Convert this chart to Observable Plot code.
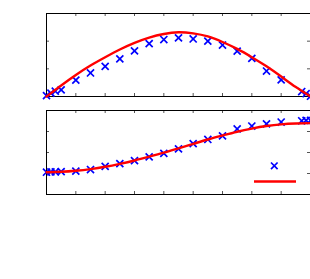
<!DOCTYPE html>
<html><head><meta charset="utf-8">
<script src="https://cdn.jsdelivr.net/npm/d3@7"></script>
<script src="https://cdn.jsdelivr.net/npm/@observablehq/plot@0.6"></script>
<style>
body{margin:0;background:#fff}
#wrap{position:relative;width:310px;height:279px;overflow:hidden;background:#fff}
#wrap>*{position:absolute;left:0}
</style>
</head><body><div id="wrap"></div>
<script>
// sample positions (x) of the measured points
const xs = [0, 0.15, 0.3, 0.5, 1, 1.5, 2, 2.5, 3, 3.5, 4, 4.5, 5, 5.5, 6, 6.5, 7, 7.5, 8, 8.7, 8.85, 9];
// top panel: measured (blue x)
const topMeasured = [0.03, 0.12, 0.19, 0.24, 0.59, 0.85, 1.09, 1.36, 1.65, 1.91, 2.06, 2.12, 2.08, 2.0, 1.86, 1.64, 1.38, 0.92, 0.60, 0.18, 0.10, 0.01];
// bottom panel: measured (blue x)
const bottomMeasured = [1.06, 1.08, 1.08, 1.09, 1.11, 1.19, 1.34, 1.47, 1.61, 1.79, 1.96, 2.17, 2.42, 2.62, 2.79, 3.12, 3.26, 3.36, 3.45, 3.51, 3.53, 3.53];
// fitted curves (red)
const fitX = [0, 0.5, 1, 1.5, 2, 2.5, 3, 3.5, 4, 4.5, 5, 5.5, 6, 6.5, 7, 7.5, 8, 8.5, 9];
const topFit = [0, 0.40, 0.78, 1.12, 1.42, 1.70, 1.94, 2.13, 2.26, 2.32, 2.28, 2.17, 1.97, 1.72, 1.42, 1.09, 0.72, 0.34, 0];
const bottomFit = [1.06, 1.08, 1.13, 1.21, 1.32, 1.46, 1.62, 1.80, 1.99, 2.20, 2.41, 2.62, 2.81, 2.99, 3.14, 3.26, 3.34, 3.38, 3.40];
// tick values
const xTicks = [1, 2, 3, 4, 5, 6, 7, 8];
const topYTicks = [1, 2];
const bottomYTicks = [1, 2, 3];

const wrap = document.getElementById("wrap");

function panel({measured, fit, yDomain, yTicks, height, marginTop, marginBottom, top}) {
  const plotH = height - marginTop - marginBottom;
  const plotW = 310 - 46;
  const tl = 3;
  const pts = xs.map((x, i) => ({x, y: measured[i]}));
  const line = fitX.map((x, i) => ({x, y: fit[i]}));
  const tickColor = "#555";
  const svg = Plot.plot({
    width: 310, height, marginLeft: 46, marginRight: 0, marginTop, marginBottom,
    x: {domain: [0, 9], axis: null},
    y: {domain: yDomain, axis: null},
    marks: [
      Plot.tickX(xTicks, {x: d => d, stroke: tickColor, insetTop: plotH - tl}),
      Plot.tickX(xTicks, {x: d => d, stroke: tickColor, insetBottom: plotH - tl}),
      Plot.tickY(yTicks, {y: d => d, stroke: tickColor, insetRight: plotW - tl}),
      Plot.tickY(yTicks, {y: d => d, stroke: tickColor, insetLeft: plotW - tl}),
      Plot.frame({stroke: "#000", strokeWidth: 1}),
      Plot.dot(pts, {x: "x", y: "y", symbol: "times", r: 3.3, stroke: "#0000ff", strokeWidth: 1.7}),
      Plot.line(line, {x: "x", y: "y", curve: "natural", stroke: "#ff0000", strokeWidth: 2.4})
    ]
  });
  svg.style.top = top + "px";
  svg.style.overflow = "visible";
  wrap.appendChild(svg);
}

panel({measured: topMeasured, fit: topFit, yDomain: [0, 3], yTicks: topYTicks, height: 99, marginTop: 13, marginBottom: 3, top: 0});
panel({measured: bottomMeasured, fit: bottomFit, yDomain: [0, 4], yTicks: bottomYTicks, height: 100, marginTop: 10, marginBottom: 6, top: 100});

// legend (no labels in the original)
const ns = "http://www.w3.org/2000/svg";
const lg = document.createElementNS(ns, "svg");
lg.setAttribute("width", 60); lg.setAttribute("height", 30);
lg.style.left = "250px"; lg.style.top = "158px";
const x = document.createElementNS(ns, "path");
x.setAttribute("d", "M21,4.5l6.6,6.6M27.6,4.5l-6.6,6.6");
x.setAttribute("stroke", "#0000ff"); x.setAttribute("stroke-width", "1.7"); x.setAttribute("fill", "none");
lg.appendChild(x);
const l = document.createElementNS(ns, "line");
l.setAttribute("x1", 4); l.setAttribute("x2", 46); l.setAttribute("y1", 23.5); l.setAttribute("y2", 23.5);
l.setAttribute("stroke", "#ff0000"); l.setAttribute("stroke-width", "2.4");
lg.appendChild(l);
wrap.appendChild(lg);
</script>
</body></html>
